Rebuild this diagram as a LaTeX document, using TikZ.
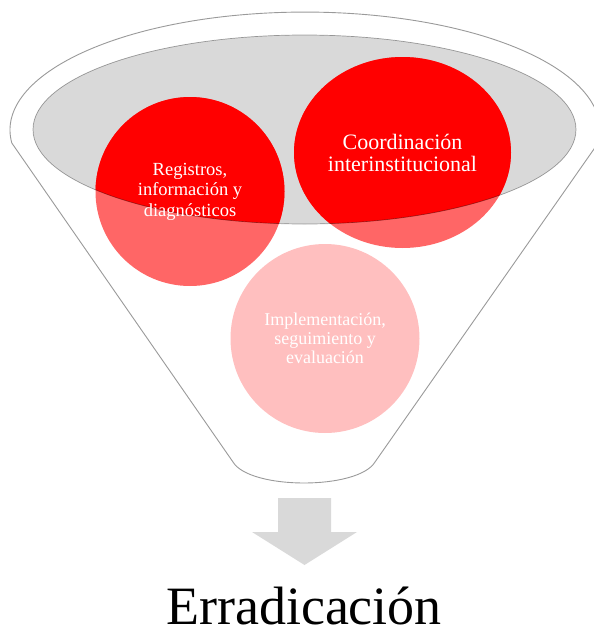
\documentclass[tikz,border=0pt]{standalone}
\usepackage{fontspec}
\setmainfont{Liberation Serif}
\usetikzlibrary{shapes.geometric}
\definecolor{funnelgray}{HTML}{D9D9D9}
\definecolor{edgegray}{HTML}{9A9A9A}
\begin{document}
\begin{tikzpicture}[x=1pt,y=-1pt,
  funnel/.style={draw=edgegray, line width=0.9pt, fill=white},
  bubble/.style={fill=red, fill opacity=0.6, draw=none, inner sep=0pt},
  paleBubble/.style={fill=red, fill opacity=0.25, draw=none, inner sep=0pt},
  bubbletext/.style={text=white, align=center, inner sep=0pt},
  blockarrow/.style={fill=funnelgray, draw=none}]
\useasboundingbox (0,0) rectangle (594,635);
\clip (0,0) rectangle (594,635);
% funnel outline
\draw[funnel] (11.8,143) arc[start angle=173.7, end angle=366.3, x radius=295, y radius=118]
  -- (375,462) .. controls (358,490) and (250,490) .. (233,462) -- cycle;
% gray mouth
\fill[funnelgray] (304.5,129.5) ellipse [x radius=271.5, y radius=94.5];
% bubbles
\node[bubble, circle, minimum size=189pt] (reg) at (190,191.5) {};
\node[bubble, ellipse, minimum width=217pt, minimum height=191pt] (coo) at (402.5,152.5) {};
\node[paleBubble, circle, minimum size=189pt] (imp) at (325,338.5) {};
\begin{scope}
  \clip (304.5,129.5) ellipse [x radius=271.5, y radius=94.5];
  \fill[red] (reg.center) circle [radius=94.5];
  \fill[red] (coo.center) ellipse [x radius=108.5, y radius=95.5];
\end{scope}
\draw[black, opacity=0.35, line width=0.7pt] (304.5,129.5) ellipse [x radius=271.5, y radius=94.5];
% texts
\node[bubbletext, font=\fontsize{18.5}{20.5}\selectfont] (regtext) at (reg.center) {Registros,\\información y\\diagnósticos};
\node[bubbletext, font=\fontsize{22}{22}\selectfont] (cootext) at (coo.center) {Coordinación\\interinstitucional};
\node[bubbletext, font=\fontsize{18}{19}\selectfont] (imptext) at (imp.center) {Implementación,\\seguimiento y\\evaluación};
% arrow
\fill[blockarrow] (278,498) -- (331,498) -- (331,532) -- (357,532) -- (304.5,565) -- (252,532) -- (278,532) -- cycle;
\node[anchor=base, font=\fontsize{54}{60}\selectfont, inner sep=0pt] (err) at (304,624) {Erradicación};
\end{tikzpicture}
\end{document}
